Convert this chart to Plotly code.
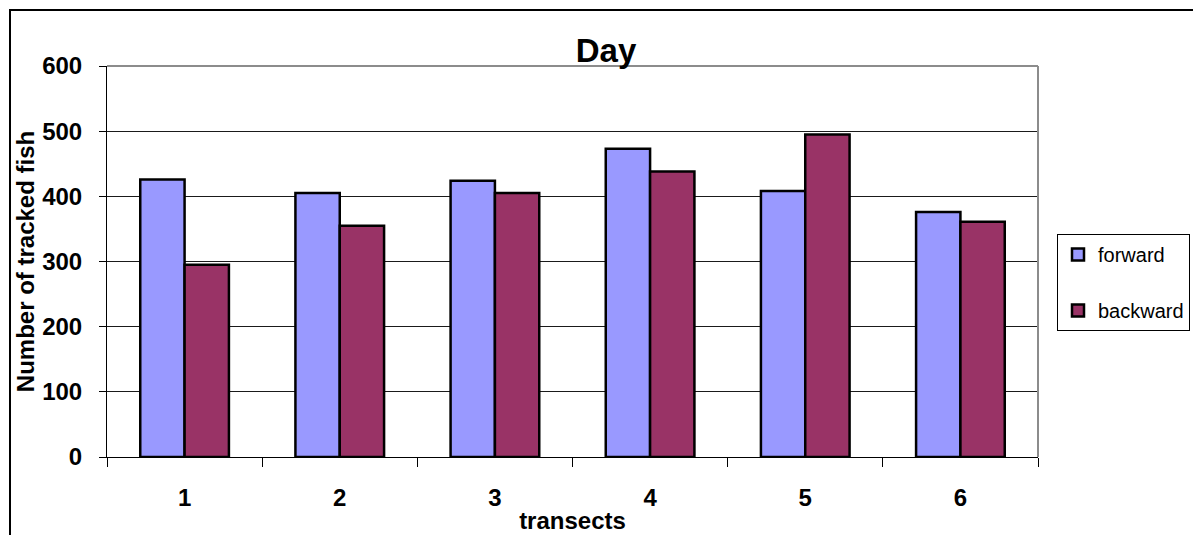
import plotly.graph_objects as go

# Tracked fish per transect (daytime)
transects = ["1", "2", "3", "4", "5", "6"]
forward = [426, 405, 424, 473, 408, 376]
backward = [295, 355, 405, 438, 495, 361]

y_ticks = [0, 100, 200, 300, 400, 500, 600]

FONT = "Liberation Sans, Arial, sans-serif"

fig = go.Figure()
fig.add_trace(go.Bar(
    x=transects, y=forward, name="forward", legendgroup="f",
    marker=dict(color="#9999FF", line=dict(color="black", width=2.5)),
))
fig.add_trace(go.Bar(
    x=transects, y=backward, name="backward", legendgroup="b",
    marker=dict(color="#993366", line=dict(color="black", width=2.5)),
))

W, H = 1193, 535
L, R, T, B = 107, 155, 66, 78
pw, ph = W - L - R, H - T - B

def px_x(px):
    return (px - L) / pw

def px_y(py):
    return (H - B - py) / ph

fig.update_layout(
    width=W, height=H,
    margin=dict(l=L, r=R, t=T, b=B, autoexpand=False),
    paper_bgcolor="white", plot_bgcolor="white",
    barmode="group", bargap=1.5 / 3.5, bargroupgap=0,
    font=dict(family=FONT, color="black"),
    title=dict(
        text="<b>Day</b>", font=dict(size=33, family=FONT, color="black"),
        x=606 / W, xref="container", xanchor="center",
        y=1 - 50 / H, yref="container", yanchor="middle",
    ),
    showlegend=True,
    legend=dict(
        x=px_x(1057), xanchor="left", y=px_y(234), yanchor="top",
        bgcolor="white", bordercolor="black", borderwidth=1,
        font=dict(size=20, family=FONT, color="black"),
        traceorder="grouped", tracegroupgap=27,
    ),
    xaxis=dict(
        type="category", tickson="boundaries",
        ticks="outside", ticklen=9, tickwidth=1, tickcolor="black",
        showline=True, linecolor="black", linewidth=1,
        tickfont=dict(size=24, family=FONT, color="black", weight="bold"),
        ticklabelstandoff=19,
        title=dict(text="<b>transects</b>", font=dict(size=24, family=FONT),
                   standoff=2),
        showgrid=False,
    ),
    yaxis=dict(
        range=[0, 600], tickvals=y_ticks,
        ticks="outside", ticklen=7, tickwidth=1, tickcolor="black",
        showline=True, linecolor="black", linewidth=1,
        tickfont=dict(size=24, family=FONT, color="black", weight="bold"),
        ticklabelstandoff=12,
        showgrid=True, gridcolor="#1a1a1a", gridwidth=1,
        zeroline=False,
        title=dict(text="<b>Number of tracked fish</b>",
                   font=dict(size=24, family=FONT), standoff=0),
    ),
    shapes=[
        # plot area frame, top and right edges in grey
        dict(type="line", xref="paper", yref="paper", x0=0, x1=1, y0=1, y1=1,
             line=dict(color="#8c8c8c", width=2), layer="above"),
        dict(type="line", xref="paper", yref="paper", x0=1, x1=1, y0=0, y1=1,
             line=dict(color="#8c8c8c", width=2), layer="above"),
        # outer chart frame
        dict(type="rect", xref="paper", yref="paper",
             x0=px_x(10), x1=px_x(1300), y0=px_y(10), y1=px_y(700),
             line=dict(color="black", width=2), fillcolor="rgba(0,0,0,0)",
             layer="above"),
    ],
)

fig.write_html("out.html")
